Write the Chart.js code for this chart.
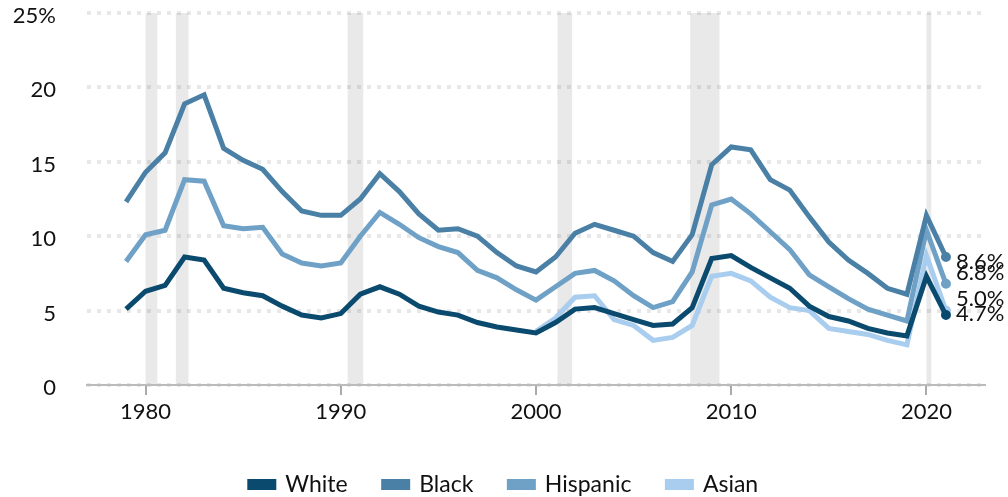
<!DOCTYPE html>
<html lang="en">
<head>
  <meta charset="UTF-8" />
  <title>Unemployment rate by race and ethnicity, 1979–2021</title>
  <style>
    body { margin: 0; background: #fff; }
    #wrap { width: 1008px; height: 497px; }
  </style>
  <script src="https://cdn.jsdelivr.net/npm/chart.js"></script>
</head>
<body>
  <div id="wrap"><canvas id="chart" width="1008" height="497"></canvas></div>

  <script>
    // Annual unemployment rates (%)
    const years = [1979, 1980, 1981, 1982, 1983, 1984, 1985, 1986, 1987, 1988, 1989,
      1990, 1991, 1992, 1993, 1994, 1995, 1996, 1997, 1998, 1999,
      2000, 2001, 2002, 2003, 2004, 2005, 2006, 2007, 2008, 2009,
      2010, 2011, 2012, 2013, 2014, 2015, 2016, 2017, 2018, 2019, 2020, 2021];
    const white = [5.1, 6.3, 6.7, 8.6, 8.4, 6.5, 6.2, 6.0, 5.3, 4.7, 4.5,
      4.8, 6.1, 6.6, 6.1, 5.3, 4.9, 4.7, 4.2, 3.9, 3.7,
      3.5, 4.2, 5.1, 5.2, 4.8, 4.4, 4.0, 4.1, 5.2, 8.5,
      8.7, 7.9, 7.2, 6.5, 5.3, 4.6, 4.3, 3.8, 3.5, 3.3, 7.3, 4.7];
    const black = [12.3, 14.3, 15.6, 18.9, 19.5, 15.9, 15.1, 14.5, 13.0, 11.7, 11.4,
      11.4, 12.5, 14.2, 13.0, 11.5, 10.4, 10.5, 10.0, 8.9, 8.0,
      7.6, 8.6, 10.2, 10.8, 10.4, 10.0, 8.9, 8.3, 10.1, 14.8,
      16.0, 15.8, 13.8, 13.1, 11.3, 9.6, 8.4, 7.5, 6.5, 6.1, 11.4, 8.6];
    const hispanic = [8.3, 10.1, 10.4, 13.8, 13.7, 10.7, 10.5, 10.6, 8.8, 8.2, 8.0,
      8.2, 10.0, 11.6, 10.8, 9.9, 9.3, 8.9, 7.7, 7.2, 6.4,
      5.7, 6.6, 7.5, 7.7, 7.0, 6.0, 5.2, 5.6, 7.6, 12.1,
      12.5, 11.5, 10.3, 9.1, 7.4, 6.6, 5.8, 5.1, 4.7, 4.3, 10.4, 6.8];
    const asianYears = [2000, 2001, 2002, 2003, 2004, 2005, 2006, 2007, 2008, 2009,
      2010, 2011, 2012, 2013, 2014, 2015, 2016, 2017, 2018, 2019, 2020, 2021];
    const asian = [3.6, 4.5, 5.9, 6.0, 4.4, 4.0, 3.0, 3.2, 4.0, 7.3,
      7.5, 7.0, 5.9, 5.2, 5.0, 3.8, 3.6, 3.4, 3.0, 2.7, 8.7, 5.0];

    // Recession periods (start, end) in fractional years
    const recessions = [[1980.0, 1980.6], [1981.55, 1982.2], [1990.35, 1991.15],
      [2001.1, 2001.85], [2007.9, 2009.4], [2020.0, 2020.25]];

    const xTicks = [1980, 1990, 2000, 2010, 2020];
    const yTicks = [0, 5, 10, 15, 20, 25];

    const FONT = 'Lato, "Noto Sans", sans-serif';

    function points(xs, ys) {
      return xs.map((x, i) => ({ x: x, y: ys[i] }));
    }

    function series(label, xs, ys, color) {
      const last = ys.length - 1;
      return {
        label: label,
        data: points(xs, ys),
        borderColor: color,
        backgroundColor: color,
        borderWidth: 5,
        pointRadius: c => c.dataIndex === last ? 4 : 0,
        pointBorderWidth: 2,
        pointBackgroundColor: color,
        pointBorderColor: color,
        tension: 0
      };
    }

    // grey recession bands behind everything
    const recessionBands = {
      id: 'recessionBands',
      beforeDraw(chart) {
        const { ctx, chartArea, scales } = chart;
        ctx.save();
        ctx.fillStyle = '#e9e9e9';
        recessions.forEach(([a, b]) => {
          const x0 = scales.x.getPixelForValue(a);
          const x1 = scales.x.getPixelForValue(b);
          ctx.fillRect(x0, chartArea.top, x1 - x0, chartArea.bottom - chartArea.top);
        });
        ctx.restore();
      }
    };

    // value labels next to the 2021 end points
    const endLabels = {
      id: 'endLabels',
      afterDatasetsDraw(chart) {
        const { ctx } = chart;
        const nudge = [-1, 5, -11, -12];
        ctx.save();
        ctx.font = '22px ' + FONT;
        ctx.fillStyle = '#111';
        ctx.textBaseline = 'middle';
        chart.data.datasets.forEach((ds, i) => {
          const meta = chart.getDatasetMeta(i);
          const pt = meta.data[meta.data.length - 1];
          const v = ds.data[ds.data.length - 1].y;
          ctx.fillText(v.toFixed(1) + '%', pt.x + 10, pt.y + nudge[i]);
        });
        ctx.restore();
      }
    };

    // keep the legend short, centre it on the page and pin its row near the bottom
    const legendFit = {
      id: 'legendFit',
      beforeLayout(chart) {
        const L = chart.legend;
        if (L && !L._short) {
          const fit = L.fit.bind(L);
          L.fit = function () { fit(); this.height = 67; };
          L._short = true;
        }
      },
      afterLayout(chart) {
        const L = chart.legend;
        const h = L.bottom - L.top;
        L.top = 437;
        L.bottom = 437 + h;
        L.left = 0;
        L.right = chart.width;
        L.width = chart.width;
      }
    };

    new Chart(document.getElementById('chart'), {
      type: 'line',
      data: {
        datasets: [
          series('White', years, white, '#0a4a6e'),
          series('Black', years, black, '#4a80a6'),
          series('Hispanic', years, hispanic, '#6fa1c7'),
          series('Asian', asianYears, asian, '#a8cdee')
        ]
      },
      options: {
        responsive: false,
        animation: false,
        layout: { padding: { top: 13, right: 23, left: 0, bottom: 0 } },
        plugins: {
          legend: {
            position: 'bottom',
            labels: {
              boxWidth: 24,
              boxHeight: 6,
              padding: 36,
              color: '#111',
              font: { family: FONT, size: 23 }
            }
          },
          tooltip: { enabled: false }
        },
        scales: {
          x: {
            type: 'linear',
            min: 1977,
            max: 2023,
            afterBuildTicks: s => { s.ticks = xTicks.map(v => ({ value: v })); },
            afterFit: s => { s.height = 45; },
            grid: { drawOnChartArea: false, drawTicks: true, tickLength: 10, color: '#aaa', lineWidth: 2 },
            border: { display: true, color: '#bbb', width: 2 },
            ticks: {
              padding: 4,
              maxRotation: 0,
              color: '#111',
              font: { family: FONT, size: 22 },
              callback: v => String(v)
            }
          },
          y: {
            min: 0,
            max: 25,
            afterBuildTicks: s => { s.ticks = yTicks.map(v => ({ value: v })); },
            afterFit: s => { s.width = 87; s.paddingTop = 12; s.paddingBottom = 12; },
            grid: { color: 'rgba(0,0,0,0.09)', lineWidth: 4, drawTicks: false },
            border: { display: false, dash: [4, 6] },
            ticks: {
              padding: 31,
              labelOffset: 3,
              color: '#111',
              font: { family: FONT, size: 22 },
              callback: v => v === 25 ? '25%' : String(v)
            }
          }
        }
      },
      plugins: [recessionBands, endLabels, legendFit]
    });
  </script>
</body>
</html>
